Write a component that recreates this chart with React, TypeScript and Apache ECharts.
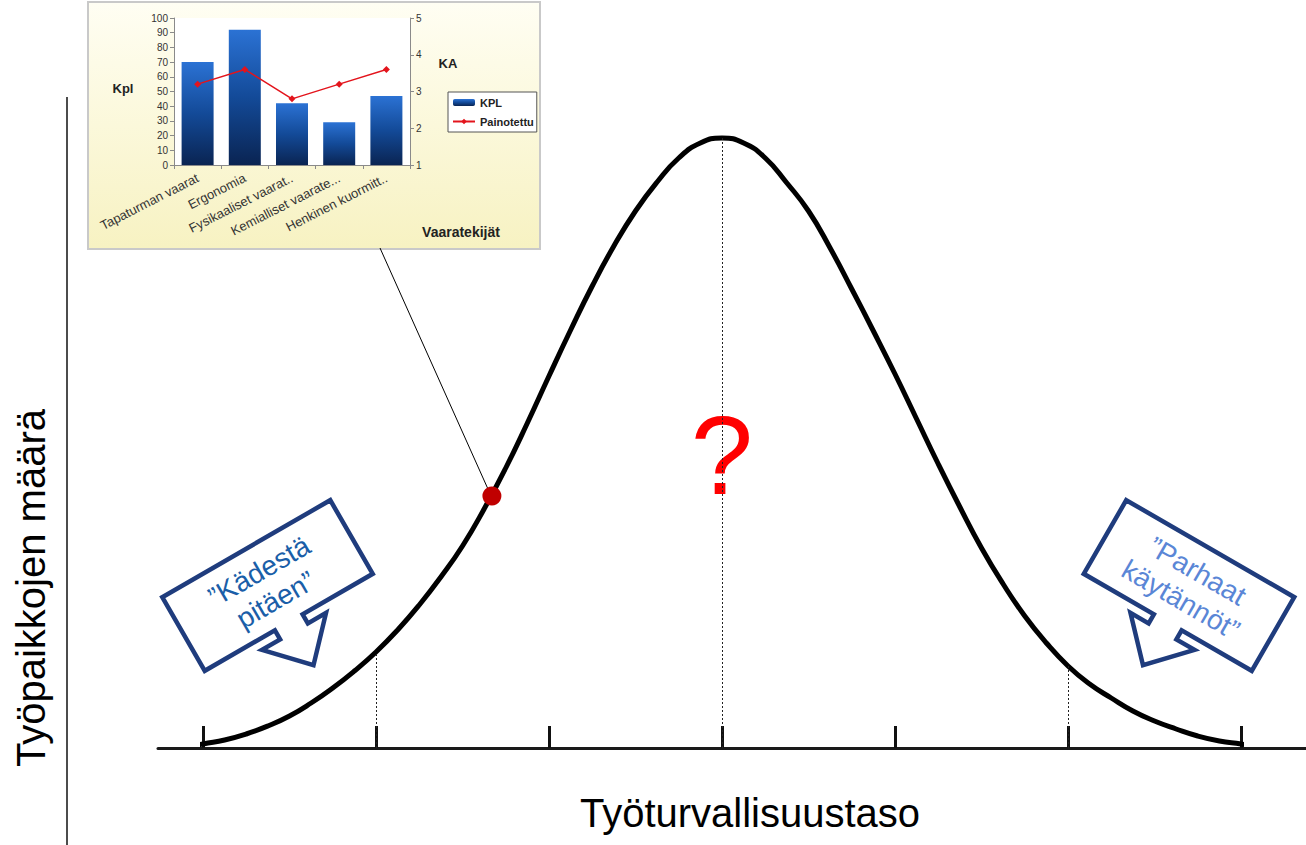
import React, { useEffect, useRef } from "react";
import * as echarts from "echarts";

// ---------- main bell curve (x in steps of the safety level, height = number of workplaces, relative units)
const curveX = [
  -3.1, -3, -2.875, -2.75, -2.625, -2.5, -2.375, -2.25, -2.125, -2, -1.875, -1.75, -1.625, -1.5, -1.375, -1.25, -1.125,
  -1, -0.875, -0.75, -0.625, -0.5, -0.375, -0.25, -0.125, 0, 0.125, 0.25, 0.375, 0.5, 0.625, 0.75, 0.875, 1, 1.125,
  1.25, 1.375, 1.5, 1.625, 1.75, 1.875, 2, 2.125, 2.25, 2.375, 2.5, 2.625, 2.75, 2.875, 3, 3.15,
];
const curveH = [
  0, 4, 8, 14, 22, 32, 45, 60, 77, 96, 118, 143, 171, 202, 239, 280, 325,
  372, 418, 462, 502, 537, 566, 590, 605, 610, 605, 590, 565, 537, 500, 459, 417, 374, 329,
  284, 241, 200, 164, 132, 105, 82, 64, 50, 37, 27, 19, 12, 7, 4, 0,
];
const guideX = [-2, 0, 2];
const dotPoint = [-1.33, 252];

// ---------- inset chart
const insetCategories = ["Tapaturman vaarat", "Ergonomia", "Fysikaaliset vaarat..", "Kemialliset vaarate...", "Henkinen kuormitt.."];
const kplValues = [70, 92, 42, 29, 47];
const kaValues = [3.2, 3.6, 2.8, 3.2, 3.6];

const FONT = "'Liberation Sans', Arial, sans-serif";

function calloutShape() {
  return [
    [-97, -42.5], [97, -42.5], [97, 42.5], [16, 42.5], [16, 53], [37, 53], [0, 92],
    [-37, 53], [-16, 53], [-16, 42.5], [-97, 42.5],
  ];
}

export default function App() {
  const ref = useRef<HTMLDivElement>(null);
  useEffect(() => {
    if (!ref.current) return;
    const chart = echarts.init(ref.current, null, { renderer: "svg" });
    const curveData = curveX.map((x, i) => [x, curveH[i]]);
    const guides = guideX.map((x) => {
      const h = curveH[curveX.indexOf(x)];
      return [{ coord: [x, 0] }, { coord: [x, h] }];
    });
    const option: any = {
      animation: false,
      backgroundColor: "#ffffff",
      textStyle: { fontFamily: FONT },
      grid: [
        { left: 203, right: 65, top: 138, bottom: 97 },
        { left: 158, right: 0, top: 138, bottom: 97 },
        { left: 174, width: 236, top: 18, height: 147, show: true, backgroundColor: "#ffffff", borderWidth: 0 },
      ],
      xAxis: [
        {
          type: "value", gridIndex: 0, min: -3, max: 3, interval: 1,
          axisLine: { show: false },
          axisTick: { show: true, inside: true, length: 22, lineStyle: { color: "#111", width: 3 } },
          axisLabel: { show: false }, splitLine: { show: false },
        },
        {
          type: "value", gridIndex: 1, min: 0, max: 1,
          axisLine: { show: true, onZero: false, lineStyle: { color: "#1a1a1a", width: 3 } },
          axisTick: { show: false }, axisLabel: { show: false }, splitLine: { show: false },
        },
        {
          type: "category", gridIndex: 2, data: insetCategories,
          axisLine: { lineStyle: { color: "#8a8a8a", width: 1 } },
          axisTick: { show: true, lineStyle: { color: "#8a8a8a" }, length: 4 },
          axisLabel: { interval: 0, rotate: 27, fontSize: 13, color: "#333", margin: 12, fontFamily: FONT },
        },
      ],
      yAxis: [
        { type: "value", gridIndex: 0, min: 0, max: 610, show: false },
        { type: "value", gridIndex: 1, min: 0, max: 1, show: false },
        {
          type: "value", gridIndex: 2, min: 0, max: 100, interval: 10, position: "left",
          axisLine: { show: true, lineStyle: { color: "#8a8a8a" } },
          axisTick: { show: true, length: 4, lineStyle: { color: "#8a8a8a" } },
          axisLabel: { fontSize: 10, color: "#333", margin: 6, fontFamily: FONT },
          splitLine: { show: false },
        },
        {
          type: "value", gridIndex: 2, min: 1, max: 5, interval: 1, position: "right",
          axisLine: { show: true, lineStyle: { color: "#8a8a8a" } },
          axisTick: { show: true, length: 4, lineStyle: { color: "#8a8a8a" } },
          axisLabel: { fontSize: 10, color: "#333", margin: 6, fontFamily: FONT },
          splitLine: { show: false },
        },
      ],
      legend: {
        data: ["KPL", "Painotettu"],
        orient: "vertical",
        left: 448, top: 92,
        itemGap: 8, itemWidth: 22, itemHeight: 7,
        backgroundColor: "#ffffff", borderColor: "#555", borderWidth: 1,
        padding: [5, 3, 5, 4],
        textStyle: { fontSize: 11, fontWeight: "bold", color: "#222", fontFamily: FONT },
      },
      series: [
        {
          type: "line", name: "curve", xAxisIndex: 0, yAxisIndex: 0,
          data: curveData, smooth: true, symbol: "none", clip: false,
          lineStyle: { color: "#000", width: 5 },
          markLine: {
            silent: true, symbol: "none", label: { show: false },
            lineStyle: { color: "#222", width: 1, type: [2, 2] },
            data: guides,
          },
          z: 3,
        },
        {
          type: "scatter", name: "dot", xAxisIndex: 0, yAxisIndex: 0,
          data: [dotPoint], symbolSize: 19, itemStyle: { color: "#c00000", opacity: 1 }, z: 5,
        },
        {
          type: "bar", name: "KPL", xAxisIndex: 2, yAxisIndex: 2, data: kplValues, barWidth: 32,
          itemStyle: {
            color: new echarts.graphic.LinearGradient(0, 0, 0, 1, [
              { offset: 0, color: "#2b72d4" },
              { offset: 0.5, color: "#134a98" },
              { offset: 1, color: "#0a2452" },
            ]),
          },
        },
        {
          type: "line", name: "Painotettu", xAxisIndex: 2, yAxisIndex: 3, data: kaValues,
          symbol: "diamond", symbolSize: 7, lineStyle: { color: "#e3141c", width: 1.5 },
          itemStyle: { color: "#e3141c" },
        },
      ],
      graphic: [
        {
          type: "rect", z: -10, silent: true,
          shape: { x: 88, y: 2, width: 452, height: 247 },
          style: {
            fill: new echarts.graphic.LinearGradient(0, 0, 0, 1, [
              { offset: 0, color: "#fffef3" },
              { offset: 1, color: "#f7f2c2" },
            ]),
            stroke: "#c9c9c9", lineWidth: 2,
          },
        },
        { type: "text", x: 123, y: 88, style: { text: "Kpl", fontSize: 13, fontWeight: "bold", fill: "#222", align: "center", verticalAlign: "middle", fontFamily: FONT } },
        { type: "text", x: 448, y: 63, style: { text: "KA", fontSize: 13, fontWeight: "bold", fill: "#222", align: "center", verticalAlign: "middle", fontFamily: FONT } },
        { type: "text", x: 461, y: 232, style: { text: "Vaaratekijät", fontSize: 14, fontWeight: "bold", fill: "#222", align: "center", verticalAlign: "middle", fontFamily: FONT } },
        {
          type: "line", z: 1, silent: true,
          shape: { x1: 380, y1: 248, x2: 492, y2: 498 },
          style: { stroke: "#000", lineWidth: 1 },
        },
        { type: "line", silent: true, shape: { x1: 67, y1: 97, x2: 67, y2: 845 }, style: { stroke: "#111", lineWidth: 1.5 } },
        {
          type: "text", x: 31, y: 588, rotation: Math.PI / 2,
          style: { text: "Työpaikkojen määrä", fontSize: 40, fill: "#000", align: "center", verticalAlign: "middle", fontFamily: FONT },
        },
        {
          type: "text", x: 750, y: 813,
          style: { text: "Työturvallisuustaso", fontSize: 40, fill: "#000", align: "center", verticalAlign: "middle", fontFamily: FONT },
        },
        {
          type: "text", x: 722, y: 455,
          style: { text: "?", fontSize: 112, fill: "#ff0000", align: "center", verticalAlign: "middle", fontFamily: FONT },
        },
        {
          type: "group", x: 267.5, y: 585.5, rotation: Math.PI / 6,
          children: [
            { type: "polygon", shape: { points: calloutShape() }, style: { fill: "#ffffff", stroke: "#1f3c7d", lineWidth: 4.5, lineJoin: "miter" } },
            { type: "text", x: 0, y: 0, style: { text: "”Kädestä\npitäen”", fontSize: 28, lineHeight: 33, fill: "#1a5ea8", align: "center", verticalAlign: "middle", fontFamily: FONT } },
          ],
        },
        {
          type: "group", x: 1189, y: 585.5, rotation: -Math.PI / 6,
          children: [
            { type: "polygon", shape: { points: calloutShape() }, style: { fill: "#ffffff", stroke: "#1f3c7d", lineWidth: 4.5, lineJoin: "miter" } },
            { type: "text", x: 0, y: 0, style: { text: "”Parhaat\nkäytännöt”", fontSize: 28, lineHeight: 33, fill: "#5a86d6", align: "center", verticalAlign: "middle", fontFamily: FONT } },
          ],
        },
      ],
    };
    chart.setOption(option);
    return () => chart.dispose();
  }, []);
  return (
    <div
      ref={ref}
      style={{ position: "fixed", left: 0, top: 0, width: 1306, height: 845, background: "#fff" }}
    />
  );
}
